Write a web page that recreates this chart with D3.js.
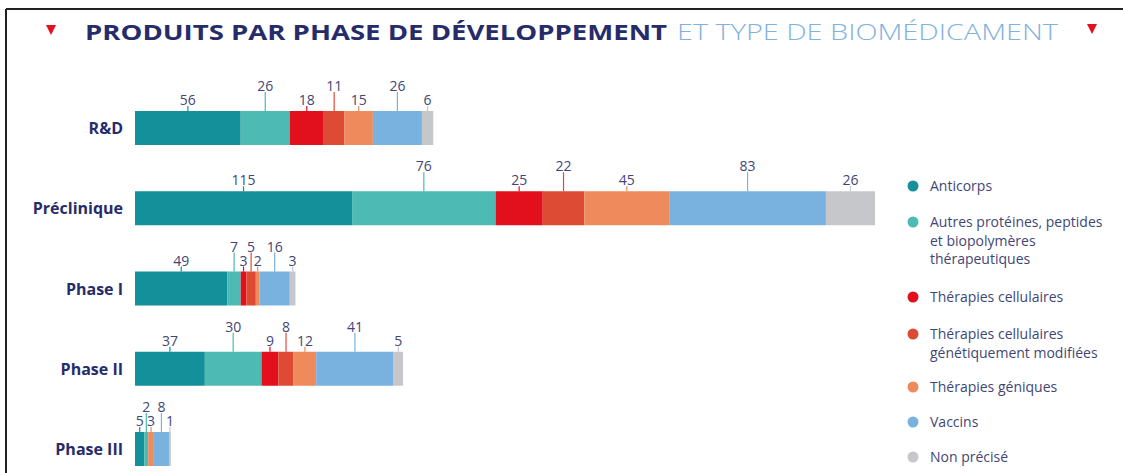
<!DOCTYPE html>
<html>
<head>
<meta charset="utf-8">
<script src="https://cdn.jsdelivr.net/npm/d3@7"></script>
<style>
html,body{margin:0;padding:0;background:#fff;}
svg{display:block;}
</style>
</head>
<body>
<svg id="chart" width="1123" height="473"></svg>
<script>
const phases = ["R&D", "Préclinique", "Phase I", "Phase II", "Phase III"];
const types = ["Anticorps", "Autres protéines, peptides et biopolymères thérapeutiques", "Thérapies cellulaires", "Thérapies cellulaires génétiquement modifiées", "Thérapies géniques", "Vaccins", "Non précisé"];
const legendLines = [["Anticorps"], ["Autres protéines, peptides", "et biopolymères", "thérapeutiques"], ["Thérapies cellulaires"], ["Thérapies cellulaires", "génétiquement modifiées"], ["Thérapies géniques"], ["Vaccins"], ["Non précisé"]];
const anticorps   = [56, 115, 49, 37, 5];
const autres      = [26, 76, 7, 30, 2];
const cellulaires = [18, 25, 3, 9, 0];
const cellGen     = [11, 22, 5, 8, 0];
const geniques    = [15, 45, 2, 12, 3];
const vaccins     = [26, 83, 16, 41, 8];
const nonPrecise  = [6, 26, 3, 5, 1];
const colors = ["#14909a", "#4dbab3", "#e20f1d", "#dd4b35", "#ef8a5d", "#7ab2df", "#c6c7cb"];
const titleBold = "PRODUITS PAR PHASE DE DÉVELOPPEMENT";
const titleLight = "ET TYPE DE BIOMÉDICAMENT";

const series = [anticorps, autres, cellulaires, cellGen, geniques, vaccins, nonPrecise];
const svg = d3.select("#chart");
const navy = "#262c6a";
const numColor = "#3f4676";
const font = "'Open Sans', 'DejaVu Sans', sans-serif";

// frame (top & left border)
svg.append("line").attr("x1", 6).attr("x2", 1123).attr("y1", 9).attr("y2", 9).attr("stroke", "#222").attr("stroke-width", 2);
svg.append("line").attr("x1", 6).attr("x2", 6).attr("y1", 9).attr("y2", 473).attr("stroke", "#222").attr("stroke-width", 2);

// title
svg.append("text").attr("x", 85).attr("y", 40).attr("font-family", font).attr("font-weight", 700)
  .attr("font-size", 22).attr("fill", navy).attr("textLength", 582).attr("lengthAdjust", "spacingAndGlyphs").text(titleBold);
svg.append("text").attr("x", 677).attr("y", 40).attr("font-family", font).attr("font-weight", 300)
  .attr("font-size", 22).attr("fill", "#7fb2de").attr("textLength", 381).attr("lengthAdjust", "spacingAndGlyphs").text(titleLight);
// red triangles
[[51, 30], [1092, 29]].forEach(([cx, cy]) => {
  svg.append("path").attr("d", `M${cx - 5},${cy - 5}L${cx + 5},${cy - 5}L${cx},${cy + 5}Z`).attr("fill", "#e5101c");
});

const x = d3.scaleLinear().domain([0, 392]).range([135, 875]);
const y = d3.scalePoint().domain(phases).range([128, 449]);
const barH = 34;

const stackData = phases.map((p, i) => {
  const o = { phase: p };
  types.forEach((t, j) => o[t] = series[j][i]);
  return o;
});
const stacked = d3.stack().keys(types)(stackData);

// category labels
svg.append("g").selectAll("text").data(phases).join("text")
  .attr("x", 123).attr("y", d => y(d) + 6).attr("text-anchor", "end")
  .attr("font-family", font).attr("font-weight", 700).attr("font-size", 16).attr("fill", navy)
  .text(d => d);

stacked.forEach((layer, j) => {
  const g = svg.append("g");
  g.selectAll("rect").data(layer.filter(d => d[1] > d[0])).join("rect")
    .attr("x", d => x(d[0])).attr("width", d => x(d[1]) - x(d[0]))
    .attr("y", d => y(d.data.phase) - barH / 2).attr("height", barH)
    .attr("fill", colors[j]);
  const high = j % 2 === 1;
  const lab = g.selectAll("g.lab").data(layer.filter(d => d[1] > d[0])).join("g").attr("class", "lab");
  lab.append("line")
    .attr("x1", d => x((d[0] + d[1]) / 2)).attr("x2", d => x((d[0] + d[1]) / 2))
    .attr("y1", d => y(d.data.phase) - barH / 2 - (high ? 19 : 5))
    .attr("y2", d => y(d.data.phase) - barH / 2)
    .attr("stroke", colors[j]).attr("stroke-width", 1.2);
  lab.append("text")
    .attr("x", d => x((d[0] + d[1]) / 2))
    .attr("y", d => y(d.data.phase) - barH / 2 - (high ? 20 : 6))
    .attr("text-anchor", "middle").attr("font-family", font).attr("font-size", 14)
    .attr("fill", numColor)
    .text(d => d[1] - d[0]);
});

// legend
const legendY = [186, 222, 297, 334, 387, 422, 457];
const lg = svg.append("g");
types.forEach((t, j) => {
  lg.append("circle").attr("cx", 913).attr("cy", legendY[j]).attr("r", 5.5).attr("fill", colors[j]);
  const tx = lg.append("text").attr("x", 930).attr("y", legendY[j] + 5)
    .attr("font-family", font).attr("font-size", 14).attr("fill", numColor);
  legendLines[j].forEach((l, k) => {
    tx.append("tspan").attr("x", 930).attr("dy", k === 0 ? 0 : 18.5).text(l);
  });
});
</script>
</body>
</html>
